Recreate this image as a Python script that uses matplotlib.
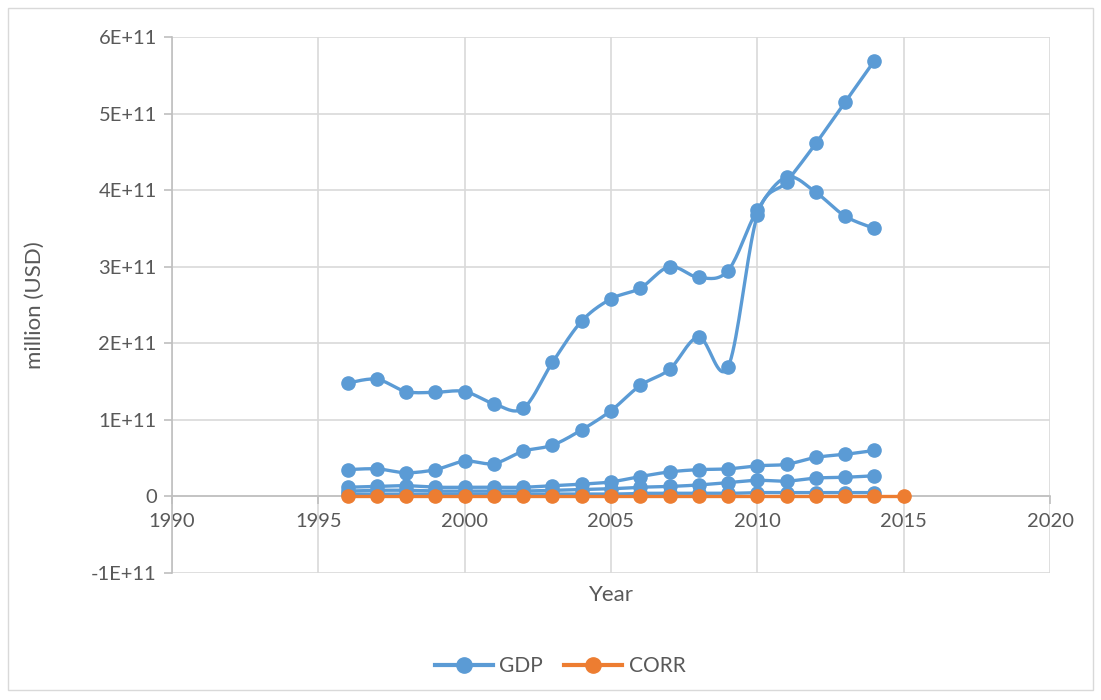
import matplotlib.pyplot as plt
import numpy as np
from matplotlib.patches import Rectangle
from matplotlib.ticker import FuncFormatter, MultipleLocator

# GDP per country (values read in units of 1E11), years 1996-2014
gdp_years = list(range(1996, 2015))
gdp_a = [1.48, 1.53, 1.37, 1.36, 1.37, 1.21, 1.15, 1.75, 2.29, 2.58,
         2.72, 3.00, 2.86, 2.95, 3.74, 4.17, 3.97, 3.66, 3.50]
gdp_b = [0.35, 0.36, 0.31, 0.35, 0.46, 0.43, 0.59, 0.67, 0.87, 1.12,
         1.45, 1.66, 2.08, 1.69, 3.67, 4.11, 4.61, 5.15, 5.69]
gdp_c = [0.12, 0.13, 0.14, 0.12, 0.12, 0.12, 0.12, 0.14, 0.16, 0.19,
         0.26, 0.32, 0.35, 0.36, 0.40, 0.42, 0.51, 0.55, 0.60]
gdp_d = [0.07, 0.08, 0.08, 0.07, 0.07, 0.07, 0.07, 0.08, 0.09, 0.10,
         0.12, 0.13, 0.15, 0.18, 0.21, 0.20, 0.24, 0.25, 0.27]
gdp_e = [0.03, 0.03, 0.03, 0.03, 0.03, 0.03, 0.03, 0.03, 0.03, 0.03,
         0.04, 0.04, 0.04, 0.04, 0.05, 0.05, 0.05, 0.05, 0.05]

# CORR index, years 1996-2015 (tiny next to GDP, sits on zero)
corr_years = list(range(1996, 2016))
corr_vals = [0] * 20

BLUE = '#5B9BD5'
ORANGE = '#ED7D31'
GREY_TXT = '#595959'
GRID = '#D9D9D9'

plt.rcParams['font.family'] = ['Lato', 'DejaVu Sans']


def smooth(x, y, n=20):
    """Excel-like smoothed line (Catmull-Rom bezier between points)."""
    x = np.asarray(x, float)
    y = np.asarray(y, float)
    px = np.concatenate([[x[0]], x, [x[-1]]])
    py = np.concatenate([[y[0]], y, [y[-1]]])
    xs, ys = [], []
    t = np.linspace(0, 1, n)
    for i in range(1, len(px) - 2):
        p0 = np.array([px[i], py[i]])
        p3 = np.array([px[i + 1], py[i + 1]])
        p1 = p0 + (p3 - np.array([px[i - 1], py[i - 1]])) / 6
        p2 = p3 - (np.array([px[i + 2], py[i + 2]]) - p0) / 6
        b = ((1 - t) ** 3)[:, None] * p0 + (3 * (1 - t) ** 2 * t)[:, None] * p1 \
            + (3 * (1 - t) * t ** 2)[:, None] * p2 + (t ** 3)[:, None] * p3
        xs.extend(b[:, 0])
        ys.extend(b[:, 1])
    return np.array(xs), np.array(ys)


fig = plt.figure(figsize=(11.01, 7.0), dpi=100)
ax = fig.add_axes([172 / 1101, 1 - 573 / 700, (1050 - 172) / 1101, (573 - 37) / 700])

fig.patches.append(Rectangle((8 / 1101, 10 / 700), 1085 / 1101, 682 / 700,
                             transform=fig.transFigure, fill=False,
                             edgecolor=GRID, lw=1))

for series in [gdp_a, gdp_b, gdp_c, gdp_d, gdp_e]:
    vals = np.array(series) * 1e11
    sx, sy = smooth(gdp_years, vals)
    ax.plot(sx, sy, color=BLUE, lw=2.4, zorder=3, solid_capstyle='round')
    ax.plot(gdp_years, vals, 'o', color=BLUE, ms=9.5, zorder=4)

cx, cy = smooth(corr_years, corr_vals)
ax.plot(cx, cy, color=ORANGE, lw=2.4, zorder=5)
ax.plot(corr_years, corr_vals, 'o', color=ORANGE, ms=9.5, zorder=6)

ax.set_xlim(1990, 2020)
ax.set_ylim(-1e11, 6e11)
ax.xaxis.set_major_locator(MultipleLocator(5))
ax.yaxis.set_major_locator(MultipleLocator(1e11))


def sci(v, pos):
    if abs(v) < 1:
        return '0'
    m = int(round(v / 1e11))
    return f'{m}E+11'


ax.yaxis.set_major_formatter(FuncFormatter(sci))
ax.grid(True, color=GRID, lw=1.2)
ax.set_axisbelow(True)

for s in ['top', 'right']:
    ax.spines[s].set_visible(False)
ax.spines['left'].set_color('#BFBFBF')
ax.spines['bottom'].set_color('#BFBFBF')
ax.spines['bottom'].set_position(('data', 0))
ax.spines['left'].set_linewidth(1.2)
ax.spines['bottom'].set_linewidth(1.2)

ax.tick_params(axis='both', colors='#BFBFBF', labelcolor=GREY_TXT,
               labelsize=14.5, length=6, width=1.2)
ax.tick_params(axis='y', pad=5)
ax.tick_params(axis='x', pad=6)

ax.set_ylabel('million (USD)', fontsize=16, color=GREY_TXT)
ax.yaxis.set_label_coords((45 - 172) / 878, 0.5)
fig.text(611 / 1101, 1 - 595 / 700, 'Year', fontsize=16, color=GREY_TXT,
         ha='center', va='center')

h1, = ax.plot([], [], '-o', color=BLUE, lw=3, ms=11)
h2, = ax.plot([], [], '-o', color=ORANGE, lw=3, ms=11)
fig.legend([h1, h2], ['GDP', 'CORR'], loc='center', ncol=2,
           bbox_to_anchor=(560 / 1101, 1 - 666 / 700), frameon=False,
           fontsize=15, labelcolor=GREY_TXT, handlelength=2.8,
           handletextpad=0.3, columnspacing=1.0)

fig.savefig('out.png', dpi=100)
